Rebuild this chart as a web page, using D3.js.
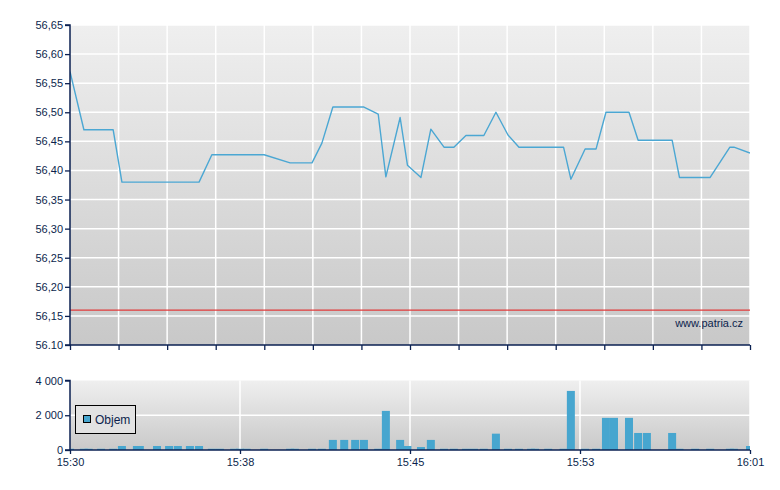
<!DOCTYPE html>
<html><head><meta charset="utf-8">
<script src="https://cdn.jsdelivr.net/npm/d3@7/dist/d3.min.js"></script>
<style>
body{margin:0;background:#fff}
svg{display:block}
text{font-family:"Liberation Sans",Arial,sans-serif;font-size:11px;fill:#0c1f4d}
</style>
</head><body>
<svg id="c" width="780" height="490"></svg>
<script>
// ---- data ----
const times = ["15:30:00","15:30:38","15:30:51","15:31:25","15:31:58","15:32:22","15:33:03","15:33:11","15:33:58","15:34:31",
  "15:34:55","15:35:28","15:35:53","15:36:28","15:36:50","15:37:29","15:37:45","15:38:03","15:38:51","15:40:02",
  "15:40:15","15:41:02","15:41:29","15:41:59","15:42:30","15:43:00","15:43:24","15:44:03","15:44:24","15:45:03",
  "15:45:23","15:46:00","15:46:27","15:47:03","15:47:30","15:48:03","15:48:25","15:48:52","15:49:25","15:49:58",
  "15:50:28","15:51:01","15:51:12","15:51:48","15:52:30","15:52:50","15:53:29","15:53:59","15:54:26","15:54:48",
  "15:55:29","15:55:54","15:56:18","15:57:27","15:57:47","15:58:30","15:59:11","16:00:05","16:00:16","16:01:00"];
const prices = [56.57,56.47,56.47,56.47,56.47,56.38,56.38,56.38,56.38,56.38,
  56.38,56.38,56.38,56.427,56.427,56.427,56.427,56.427,56.427,56.413,
  56.413,56.413,56.447,56.509,56.509,56.509,56.509,56.497,56.389,56.491,
  56.409,56.388,56.471,56.44,56.44,56.46,56.46,56.46,56.50,56.461,
  56.44,56.44,56.44,56.44,56.44,56.385,56.437,56.437,56.50,56.50,
  56.50,56.452,56.452,56.452,56.388,56.388,56.388,56.44,56.44,56.43];
const volumes = [70,70,70,70,70,230,230,230,230,230,
  230,230,230,70,70,70,70,70,70,70,
  70,70,70,580,580,580,580,70,2250,580,
  230,170,580,70,70,70,70,70,940,70,
  70,70,70,70,70,3400,70,70,1850,1850,
  1850,980,980,980,70,70,70,70,70,230];
const refPrice = 56.16;
const priceTicks = [56.10,56.15,56.20,56.25,56.30,56.35,56.40,56.45,56.50,56.55,56.60,56.65];
const priceTickLabels = ["56.10","56,15","56,20","56,25","56,30","56,35","56,40","56,45","56,50","56,55","56,60","56,65"];
const volTicks = [0,2000,4000];
const volTickLabels = ["0","2 000","4 000"];
const timeStart = "15:30:00", timeEnd = "16:01:00";
const timeTickLabels = ["15:30","15:38","15:45","15:53","16:01"];
const legendLabel = "Objem";
const watermark = "www.patria.cz";

// ---- setup ----
const parse = d3.timeParse("%H:%M:%S");
const data = times.map((t,i)=>({t:parse(t), p:prices[i], v:volumes[i]}));
const svg = d3.select("#c");
const navy = "#0b2152";
const L = 70, R = 750;
const mainTop = 25, mainBot = 345;
const volTop = 380.5, volBot = 450;

const x = d3.scaleTime().domain([parse(timeStart), parse(timeEnd)]).range([L, R]);
const y = d3.scaleLinear().domain([56.10, 56.65]).range([mainBot, mainTop]);
const yv = d3.scaleLinear().domain([0, 4000]).range([volBot, volTop]);

const defs = svg.append("defs");
function grad(id, c1, c2){
  const g = defs.append("linearGradient").attr("id", id).attr("x1",0).attr("y1",0).attr("x2",0).attr("y2",1);
  g.append("stop").attr("offset","0%").attr("stop-color",c1);
  g.append("stop").attr("offset","100%").attr("stop-color",c2);
}
grad("gMain","#efefef","#c8c8c8");
grad("gVol","#efefef","#c9c9c9");
defs.append("clipPath").attr("id","clipMain").append("rect").attr("x",L).attr("y",mainTop).attr("width",R-L).attr("height",mainBot-mainTop);
defs.append("clipPath").attr("id","clipVol").append("rect").attr("x",L).attr("y",volTop).attr("width",R-L).attr("height",volBot-volTop);

const t0 = parse(timeStart).getTime(), t1 = parse(timeEnd).getTime();
const gridTimes = d3.range(15).map(i => new Date(t0 + (t1-t0)*i/14));
const labelTimes = d3.range(5).map(i => new Date(t0 + (t1-t0)*i/4));

// ---- main panel ----
svg.append("rect").attr("x",L).attr("y",mainTop).attr("width",R-L).attr("height",mainBot-mainTop).attr("fill","url(#gMain)");
const gm = svg.append("g");
gm.selectAll("line.hg").data(priceTicks.slice(1)).join("line")
  .attr("x1",L).attr("x2",R).attr("y1",d=>y(d)).attr("y2",d=>y(d))
  .attr("stroke","#fff").attr("stroke-width",1.5);
gm.selectAll("line.vg").data(gridTimes.slice(1)).join("line")
  .attr("x1",d=>x(d)).attr("x2",d=>x(d)).attr("y1",mainTop).attr("y2",mainBot)
  .attr("stroke","#fff").attr("stroke-width",1.5);

svg.append("line").attr("x1",L).attr("x2",R).attr("y1",y(refPrice)).attr("y2",y(refPrice))
  .attr("stroke","#e03a3a").attr("stroke-width",1.3);

svg.append("text").attr("x",743).attr("y",327).attr("text-anchor","end").text(watermark);

svg.append("path").datum(data).attr("clip-path","url(#clipMain)")
  .attr("fill","none").attr("stroke","#4ba7d3").attr("stroke-width",1.4).attr("stroke-linejoin","round")
  .attr("d", d3.line().x(d=>x(d.t)).y(d=>y(d.p)));

// y axis main
const ya = d3.axisLeft(y).tickValues(priceTicks).tickSize(5).tickFormat((d,i)=>priceTickLabels[i]);
const gya = svg.append("g").attr("transform",`translate(${L},0)`).call(ya);
// x axis main (ticks only)
const xa = d3.axisBottom(x).tickValues(gridTimes).tickSize(5).tickFormat("");
const gxa = svg.append("g").attr("transform",`translate(0,${mainBot})`).call(xa);

// ---- volume panel ----
svg.append("rect").attr("x",L).attr("y",volTop).attr("width",R-L).attr("height",volBot-volTop).attr("fill","url(#gVol)");
svg.append("line").attr("x1",L).attr("x2",R).attr("y1",yv(2000)).attr("y2",yv(2000)).attr("stroke","#fff").attr("stroke-width",1.5);
svg.selectAll("line.vvg").data(labelTimes.slice(1)).join("line")
  .attr("x1",d=>x(d)).attr("x2",d=>x(d)).attr("y1",volTop).attr("y2",volBot)
  .attr("stroke","#fff").attr("stroke-width",1.5);

const bw = 8;
svg.append("g").attr("clip-path","url(#clipVol)").selectAll("rect").data(data).join("rect")
  .attr("x",d=>x(d.t)-bw/2).attr("width",bw)
  .attr("y",d=>yv(d.v)).attr("height",d=>volBot-yv(d.v))
  .attr("fill","#47a6cf");

const yva = d3.axisLeft(yv).tickValues(volTicks).tickSize(5).tickFormat((d,i)=>volTickLabels[i]);
const gyva = svg.append("g").attr("transform",`translate(${L},0)`).call(yva);
const xva = d3.axisBottom(x).tickValues(labelTimes).tickSize(4).tickPadding(4).tickFormat((d,i)=>timeTickLabels[i]);
const gxva = svg.append("g").attr("transform",`translate(0,${volBot})`).call(xva);

[gya,gxa,gyva,gxva].forEach(g=>{
  g.select(".domain").attr("stroke",navy).attr("stroke-width",1.5);
  g.selectAll(".tick line").attr("stroke",navy).attr("stroke-width",1.3);
  g.selectAll(".tick text").attr("fill","#0c1f4d").style("font-family",'"Liberation Sans",Arial,sans-serif').style("font-size","11px");
});
gya.select(".domain").attr("d",`M-5,${mainBot}H0V${mainTop}H-5`);
gxa.select(".domain").attr("d",`M${L},0H${R}`);
gyva.select(".domain").attr("d",`M-5,${volBot}H0V${volTop}H-5`);
gxva.select(".domain").attr("d",`M${L},0H${R}`);
gya.selectAll(".tick text").attr("x",-7);
gyva.selectAll(".tick text").attr("x",-7);

// legend
const lg = svg.append("g");
lg.append("rect").attr("x",75.5).attr("y",405.5).attr("width",60).attr("height",28)
  .attr("fill","#e2e2e2").attr("stroke","#000").attr("stroke-width",1);
lg.append("rect").attr("x",83.5).attr("y",415.5).attr("width",7).attr("height",7)
  .attr("fill","#47a6cf").attr("stroke","#000").attr("stroke-width",1);
lg.append("text").attr("x",95).attr("y",424).style("font-size","12px").attr("fill","#000").text(legendLabel);
</script>
</body></html>
